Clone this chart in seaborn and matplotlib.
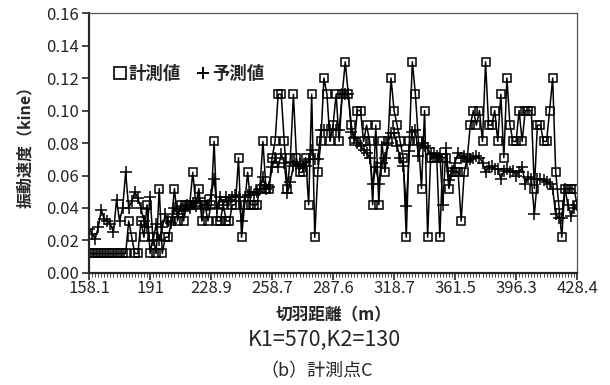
import numpy as np
import pandas as pd
import matplotlib
matplotlib.use("Agg")
import matplotlib.pyplot as plt
from matplotlib.lines import Line2D
import seaborn as sns

# Measured vibration velocity (kine) at each excavation step
measured = [
    0.012, 0.012, 0.012, 0.012, 0.012, 0.012, 0.012, 0.012, 0.012, 0.012,
    0.012, 0.012, 0.012, 0.032, 0.022, 0.012, 0.012, 0.032, 0.022, 0.042,
    0.012, 0.022, 0.012, 0.052, 0.012, 0.022, 0.022, 0.032, 0.052, 0.032,
    0.042, 0.032, 0.042, 0.042, 0.062, 0.042, 0.052, 0.032, 0.042, 0.032,
    0.042, 0.081, 0.032, 0.032, 0.042, 0.032, 0.032, 0.042, 0.042, 0.071,
    0.022, 0.042, 0.062, 0.042, 0.042, 0.042, 0.052, 0.081, 0.052, 0.052,
    0.071, 0.081, 0.110, 0.110, 0.081, 0.052, 0.071, 0.110, 0.071, 0.062,
    0.062, 0.071, 0.042, 0.110, 0.022, 0.062, 0.081, 0.120, 0.110, 0.081,
    0.091, 0.110, 0.081, 0.110, 0.130, 0.110, 0.091, 0.081, 0.100, 0.100,
    0.081, 0.091, 0.081, 0.042, 0.091, 0.042, 0.081, 0.062, 0.081, 0.120,
    0.100, 0.091, 0.081, 0.071, 0.022, 0.081, 0.130, 0.110, 0.081, 0.052,
    0.100, 0.022, 0.071, 0.071, 0.071, 0.022, 0.071, 0.071, 0.052, 0.062,
    0.062, 0.062, 0.032, 0.062, 0.071, 0.091, 0.100, 0.091, 0.100, 0.081,
    0.130, 0.091, 0.091, 0.100, 0.081, 0.110, 0.071, 0.120, 0.091, 0.081,
    0.081, 0.100, 0.081, 0.100, 0.100, 0.100, 0.052, 0.091, 0.091, 0.081,
    0.081, 0.100, 0.120, 0.062, 0.042, 0.022, 0.052, 0.052, 0.052, 0.052,
    0.042,
]

# Predicted vibration velocity (kine)
predicted = [
    0.027, 0.024, 0.021, 0.028, 0.039, 0.033, 0.032, 0.030, 0.025, 0.045,
    0.032, 0.040, 0.062, 0.040, 0.044, 0.050, 0.046, 0.040, 0.032, 0.028,
    0.047, 0.020, 0.030, 0.020, 0.028, 0.036, 0.032, 0.031, 0.040, 0.036,
    0.041, 0.038, 0.042, 0.040, 0.043, 0.041, 0.046, 0.040, 0.044, 0.042,
    0.048, 0.058, 0.040, 0.047, 0.042, 0.047, 0.045, 0.047, 0.048, 0.047,
    0.032, 0.047, 0.048, 0.050, 0.048, 0.050, 0.052, 0.059, 0.052, 0.053,
    0.065, 0.071, 0.065, 0.073, 0.068, 0.049, 0.056, 0.066, 0.067, 0.067,
    0.066, 0.066, 0.070, 0.076, 0.070, 0.070, 0.088, 0.088, 0.088, 0.088,
    0.088, 0.088, 0.088, 0.110, 0.110, 0.110, 0.087, 0.083, 0.080, 0.078,
    0.076, 0.074, 0.071, 0.055, 0.065, 0.055, 0.068, 0.071, 0.080, 0.086,
    0.086, 0.078, 0.071, 0.066, 0.041, 0.075, 0.087, 0.088, 0.072, 0.080,
    0.078, 0.077, 0.073, 0.074, 0.072, 0.073, 0.042, 0.077, 0.057, 0.063,
    0.068, 0.074, 0.071, 0.072, 0.069, 0.070, 0.071, 0.072, 0.071, 0.068,
    0.062, 0.065, 0.066, 0.064, 0.064, 0.058, 0.063, 0.064, 0.062, 0.063,
    0.060, 0.062, 0.065, 0.055, 0.059, 0.058, 0.036, 0.058, 0.058, 0.057,
    0.056, 0.055, 0.052, 0.036, 0.034, 0.034, 0.052, 0.042, 0.035, 0.040,
    0.042,
]

# Face distance labels shown every 20 steps
distance_labels = ["158.1", "191", "228.9", "258.7", "287.6",
                   "318.7", "361.5", "396.3", "428.4"]
label_step = 20

y_ticks = [0.00, 0.02, 0.04, 0.06, 0.08, 0.10, 0.12, 0.14, 0.16]

sns.set_style("ticks")
plt.rcParams["font.family"] = ["Noto Sans CJK JP", "DejaVu Sans"]

step = np.arange(len(measured))
df = pd.DataFrame({"step": step, "measured": measured, "predicted": predicted})

fig = plt.figure(figsize=(6.1, 3.85), dpi=100)
ax = fig.add_axes([0.146, 0.291, 0.8, 0.675])

sns.lineplot(data=df, x="step", y="predicted", ax=ax, color="black",
             linewidth=1.1, marker="+", markersize=8,
             markeredgecolor="black", markeredgewidth=1.1)
sns.lineplot(data=df, x="step", y="measured", ax=ax, color="black",
             linewidth=1.1, marker="s", markersize=6.3,
             markerfacecolor="none", markeredgecolor="black",
             markeredgewidth=1.1)

ax.set_xlim(0, len(measured) - 1)
ax.set_ylim(0, 0.16)
ax.set_yticks(y_ticks)
ax.set_yticklabels([f"{v:.2f}" for v in y_ticks], fontsize=12)
major_pos = np.arange(0, len(measured), label_step)
ax.set_xticks(major_pos)
ax.set_xticklabels(distance_labels, fontsize=12)
ax.set_xticks(step, minor=True)
ax.tick_params(axis="x", which="major", direction="out", length=5,
               width=1.2, pad=0)
ax.tick_params(axis="x", which="minor", direction="out", length=3,
               width=0.6)
ax.tick_params(axis="y", which="major", direction="out", length=5,
               width=1.2, pad=2)

for side in ("left", "bottom"):
    ax.spines[side].set_linewidth(1.6)
for side in ("top", "right"):
    ax.spines[side].set_linewidth(0.9)
    ax.spines[side].set_color("#555555")

ax.set_xlabel("切羽距離（m）", fontsize=12, fontweight="bold", labelpad=7)
ax.set_ylabel("振動速度（kine）", fontsize=11.5, fontweight="bold",
              labelpad=10)

handles = [
    Line2D([], [], linestyle="none", marker="s", markersize=8,
           markerfacecolor="none", markeredgecolor="black",
           markeredgewidth=1.2, label="計測値"),
    Line2D([], [], linestyle="none", marker="+", markersize=9,
           color="black", markeredgewidth=1.4, label="予測値"),
]
ax.legend(handles=handles, loc="upper left",
          bbox_to_anchor=(0.02, 0.86), ncol=2, frameon=False,
          handlelength=0.6, handletextpad=0.2, columnspacing=1.0,
          prop={"size": 12.5, "weight": "bold"})

fig.text(0.532, 0.118, "K1=570,K2=130", ha="center", va="center",
         fontsize=15.5)
fig.text(0.52, 0.035, "（b）計測点C", ha="center", va="center",
         fontsize=13)

fig.savefig("out.png", dpi=100)
